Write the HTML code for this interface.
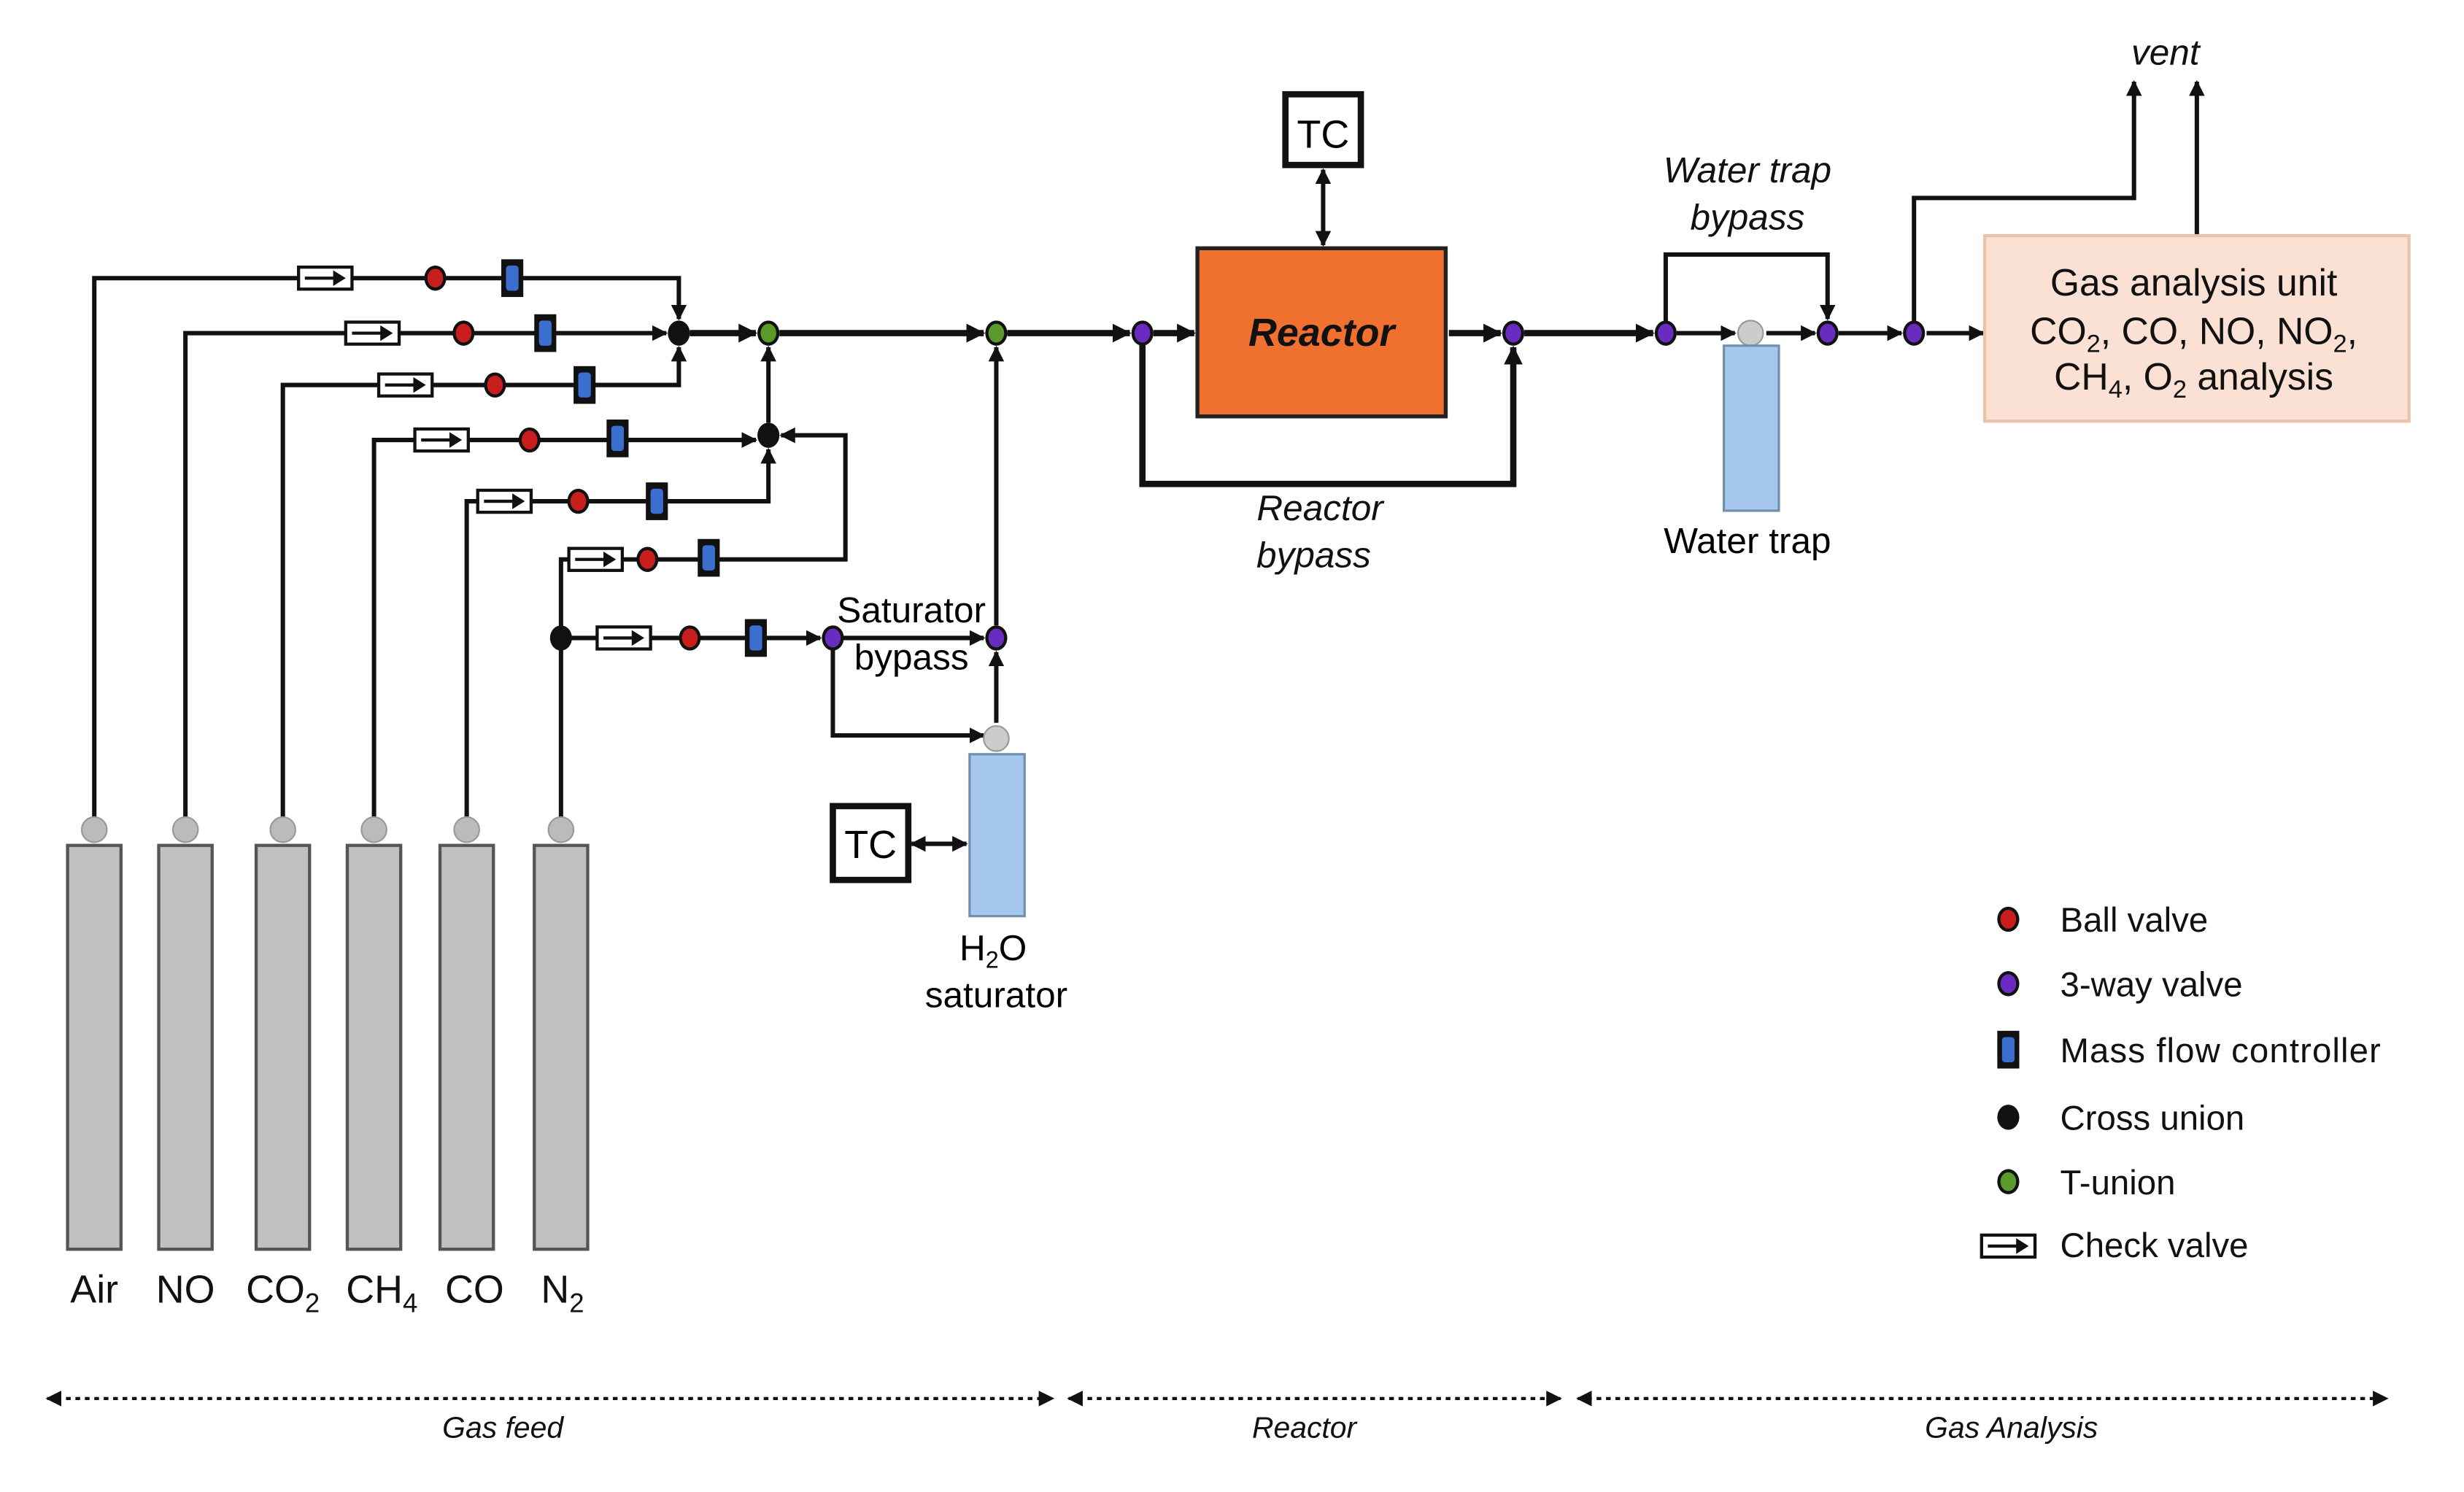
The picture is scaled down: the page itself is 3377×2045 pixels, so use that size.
<!DOCTYPE html>
<html><head><style>html,body{margin:0;padding:0;background:#fff}svg{display:block}text{font-family:"Liberation Sans",Arial,sans-serif}</style></head><body>
<svg width="3377" height="2045" viewBox="0 0 1568 949.5" preserveAspectRatio="none" xmlns="http://www.w3.org/2000/svg">
<defs>
<marker id="a" markerWidth="12" markerHeight="12" refX="11" refY="6" orient="auto" markerUnits="userSpaceOnUse"><path d="M0,0 L12,6 L0,12 z" fill="#111"/></marker>
<marker id="d" markerWidth="10" markerHeight="10" refX="9" refY="5" orient="auto" markerUnits="userSpaceOnUse"><path d="M0,0 L10,5 L0,10 z" fill="#111"/></marker>
<marker id="ds" markerWidth="10" markerHeight="10" refX="1" refY="5" orient="auto" markerUnits="userSpaceOnUse"><path d="M10,0 L0,5 L10,10 z" fill="#111"/></marker>
<g id="cv"><rect x="0" y="-7" width="34" height="14" fill="#fff" stroke="#111" stroke-width="2"/><line x1="4" y1="0" x2="28" y2="0" stroke="#111" stroke-width="2"/><path d="M22,-5 L30,0 L22,5z" fill="#111"/></g>
<g id="mfc"><rect x="-7" y="-12" width="14" height="24" fill="#111"/><rect x="-4" y="-8" width="8" height="16" rx="2" fill="#3a6fd0"/></g>
<g id="bv"><ellipse cx="0" cy="0" rx="7" ry="8" fill="#111"/><ellipse cx="0" cy="0" rx="5" ry="6" fill="#c81e1e"/></g>
<g id="tw"><ellipse cx="0" cy="0" rx="7" ry="8" fill="#111"/><ellipse cx="0" cy="0" rx="5" ry="6" fill="#6a2bc0"/></g>
<g id="tu"><ellipse cx="0" cy="0" rx="7" ry="8" fill="#111"/><ellipse cx="0" cy="0" rx="5" ry="6" fill="#5a9a2a"/></g>
<g id="cu"><ellipse cx="0" cy="0" rx="7" ry="8" fill="#111"/></g>
<g id="cyl"><circle cx="0" cy="-10" r="8" fill="#bbb" stroke="#999"/><rect x="-17" y="0" width="34" height="257" fill="#c0c0c0" stroke="#555" stroke-width="2"/></g>
</defs>
<g stroke="#111" stroke-width="2.8" fill="none">
<polyline points="60,520 60,177 432,177 432,203" marker-end="url(#d)"/>
<polyline points="118,520 118,212 424,212" marker-end="url(#d)"/>
<polyline points="180,520 180,245 432,245 432,221" marker-end="url(#d)"/>
<polyline points="238,520 238,280 481,280" marker-end="url(#d)"/>
<polyline points="297,520 297,319 489,319 489,286" marker-end="url(#d)"/>
<polyline points="357,520 357,356 538,356 538,277 497,277" marker-end="url(#d)"/>
<polyline points="357,406 522,406" marker-end="url(#d)"/>
<polyline points="530,406 626,406" marker-end="url(#d)"/>
<polyline points="530,406 530,468 626,468" marker-end="url(#d)"/>
<polyline points="634,460 634,415" marker-end="url(#d)"/>
<polyline points="634,398 634,221" marker-end="url(#d)"/>
<polyline points="489,269 489,221" marker-end="url(#d)"/>
</g>
<g stroke="#111" stroke-width="4" fill="none">
<polyline points="439,212 481,212" marker-end="url(#a)"/>
<polyline points="496,212 626,212" marker-end="url(#a)"/>
<polyline points="641,212 719,212" marker-end="url(#a)"/>
<polyline points="734,212 760,212" marker-end="url(#a)"/>
<polyline points="727,212 727,308 963,308 963,221" marker-end="url(#a)"/>
<polyline points="922,212 955,212" marker-end="url(#a)"/>
<polyline points="970,212 1052,212" marker-end="url(#a)"/>
</g>
<g stroke="#111" stroke-width="2.8" fill="none">
<polyline points="1067,212 1104,212" marker-end="url(#d)"/>
<polyline points="1124,212 1155,212" marker-end="url(#d)"/>
<polyline points="1060,212 1060,162 1163,162 1163,203" marker-end="url(#d)"/>
<polyline points="1170,212 1210,212" marker-end="url(#d)"/>
<polyline points="1226,212 1262,212" marker-end="url(#d)"/>
<polyline points="1218,212 1218,126 1358,126 1358,52" marker-end="url(#d)"/>
<polyline points="1398,150 1398,52" marker-end="url(#d)"/>
<line x1="842" y1="108" x2="842" y2="156" marker-start="url(#ds)" marker-end="url(#d)"/>
<line x1="580" y1="537" x2="615" y2="537" marker-start="url(#ds)" marker-end="url(#d)"/>
</g>
<use href="#cv" x="190" y="177"/><use href="#bv" x="277" y="177"/><use href="#mfc" x="326" y="177"/>
<use href="#cv" x="220" y="212"/><use href="#bv" x="295" y="212"/><use href="#mfc" x="347" y="212"/>
<use href="#cv" x="241" y="245"/><use href="#bv" x="315" y="245"/><use href="#mfc" x="372" y="245"/>
<use href="#cv" x="264" y="280"/><use href="#bv" x="337" y="280"/><use href="#mfc" x="393" y="279"/>
<use href="#cv" x="304" y="319"/><use href="#bv" x="368" y="319"/><use href="#mfc" x="418" y="319"/>
<use href="#cv" x="362" y="356"/><use href="#bv" x="412" y="356"/><use href="#mfc" x="451" y="355"/>
<use href="#cv" x="380" y="406"/><use href="#bv" x="439" y="406"/><use href="#mfc" x="481" y="406"/>
<use href="#cu" x="432" y="212"/><use href="#cu" x="489" y="277"/><use href="#cu" x="357" y="406"/>
<use href="#tu" x="489" y="212"/><use href="#tu" x="634" y="212"/>
<use href="#tw" x="530" y="406"/><use href="#tw" x="634" y="406"/><use href="#tw" x="727" y="212"/><use href="#tw" x="963" y="212"/>
<use href="#tw" x="1060" y="212"/><use href="#tw" x="1163" y="212"/><use href="#tw" x="1218" y="212"/>
<use href="#cyl" x="60" y="538"/><use href="#cyl" x="118" y="538"/><use href="#cyl" x="180" y="538"/>
<use href="#cyl" x="238" y="538"/><use href="#cyl" x="297" y="538"/><use href="#cyl" x="357" y="538"/>
<g font-size="25" text-anchor="middle" fill="#111">
<text x="60" y="829">Air</text><text x="118" y="829">NO</text>
<text x="180" y="829">CO<tspan font-size="17" dy="6">2</tspan></text>
<text x="243" y="829">CH<tspan font-size="17" dy="6">4</tspan></text>
<text x="302" y="829">CO</text>
<text x="358" y="829">N<tspan font-size="17" dy="6">2</tspan></text>
</g>
<rect x="762" y="158" width="158" height="107" fill="#f07030" stroke="#222" stroke-width="2.5"/>
<text x="841" y="220" font-size="25" font-style="italic" font-weight="bold" text-anchor="middle" fill="#111">Reactor</text>
<rect x="818" y="60" width="48" height="45" fill="#fff" stroke="#111" stroke-width="4"/>
<text x="842" y="94" font-size="25" text-anchor="middle">TC</text>
<g font-size="23" font-style="italic" text-anchor="middle" fill="#111">
<text x="840" y="331">Reactor</text><text x="836" y="361">bypass</text>
<text x="1112" y="116">Water trap</text><text x="1112" y="146">bypass</text>
<text x="1378" y="41">vent</text>
</g>
<circle cx="1114" cy="212" r="8" fill="#ccc" stroke="#999"/>
<rect x="1097" y="220" width="35" height="105" fill="#a6c8ec" stroke="#7090b0" stroke-width="1.5"/>
<text x="1112" y="352" font-size="23" text-anchor="middle">Water trap</text>
<circle cx="634" cy="470" r="8" fill="#ccc" stroke="#999"/>
<rect x="617" y="480" width="35" height="103" fill="#a6c8ec" stroke="#7090b0" stroke-width="1.5"/>
<rect x="530" y="513" width="48" height="47" fill="#fff" stroke="#111" stroke-width="4"/>
<text x="554" y="546" font-size="25" text-anchor="middle">TC</text>
<text x="632" y="611" font-size="23" text-anchor="middle">H<tspan font-size="15" dy="5">2</tspan><tspan dy="-5">O</tspan></text>
<text x="634" y="641" font-size="23" text-anchor="middle">saturator</text>
<text x="580" y="396" font-size="23" text-anchor="middle">Saturator</text>
<text x="580" y="426" font-size="23" text-anchor="middle">bypass</text>
<rect x="1263" y="150" width="270" height="118" fill="#fbe1d3" stroke="#e8c4ac" stroke-width="2"/>
<g font-size="24" text-anchor="middle" fill="#111">
<text x="1396" y="188">Gas analysis unit</text>
<text x="1396" y="219">CO<tspan font-size="16" dy="5">2</tspan><tspan dy="-5">, CO, NO, NO</tspan><tspan font-size="16" dy="5">2</tspan><tspan dy="-5">,</tspan></text>
<text x="1396" y="248">CH<tspan font-size="16" dy="5">4</tspan><tspan dy="-5">, O</tspan><tspan font-size="16" dy="5">2</tspan><tspan dy="-5"> analysis</tspan></text>
</g>
<use href="#bv" x="1278" y="585"/><use href="#tw" x="1278" y="626"/><use href="#mfc" x="1278" y="668"/>
<use href="#cu" x="1278" y="711"/><use href="#tu" x="1278" y="752"/><use href="#cv" x="1261" y="793"/>
<g font-size="22" fill="#111" textLength="0">
<text x="1311" y="593">Ball valve</text><text x="1311" y="634">3-way valve</text><text x="1311" y="676" textLength="204">Mass flow controller</text>
<text x="1311" y="719">Cross union</text><text x="1311" y="760">T-union</text><text x="1311" y="800">Check valve</text>
</g>
<g stroke="#111" stroke-width="2" stroke-dasharray="3,3" fill="none">
<line x1="30" y1="890" x2="670" y2="890" marker-start="url(#ds)" marker-end="url(#d)"/>
<line x1="680" y1="890" x2="993" y2="890" marker-start="url(#ds)" marker-end="url(#d)"/>
<line x1="1004" y1="890" x2="1519" y2="890" marker-start="url(#ds)" marker-end="url(#d)"/>
</g>
<g font-size="19" font-style="italic" text-anchor="middle" fill="#111">
<text x="320" y="915">Gas feed</text><text x="830" y="915">Reactor</text><text x="1280" y="915">Gas Analysis</text>
</g>
</svg>
</body></html>
